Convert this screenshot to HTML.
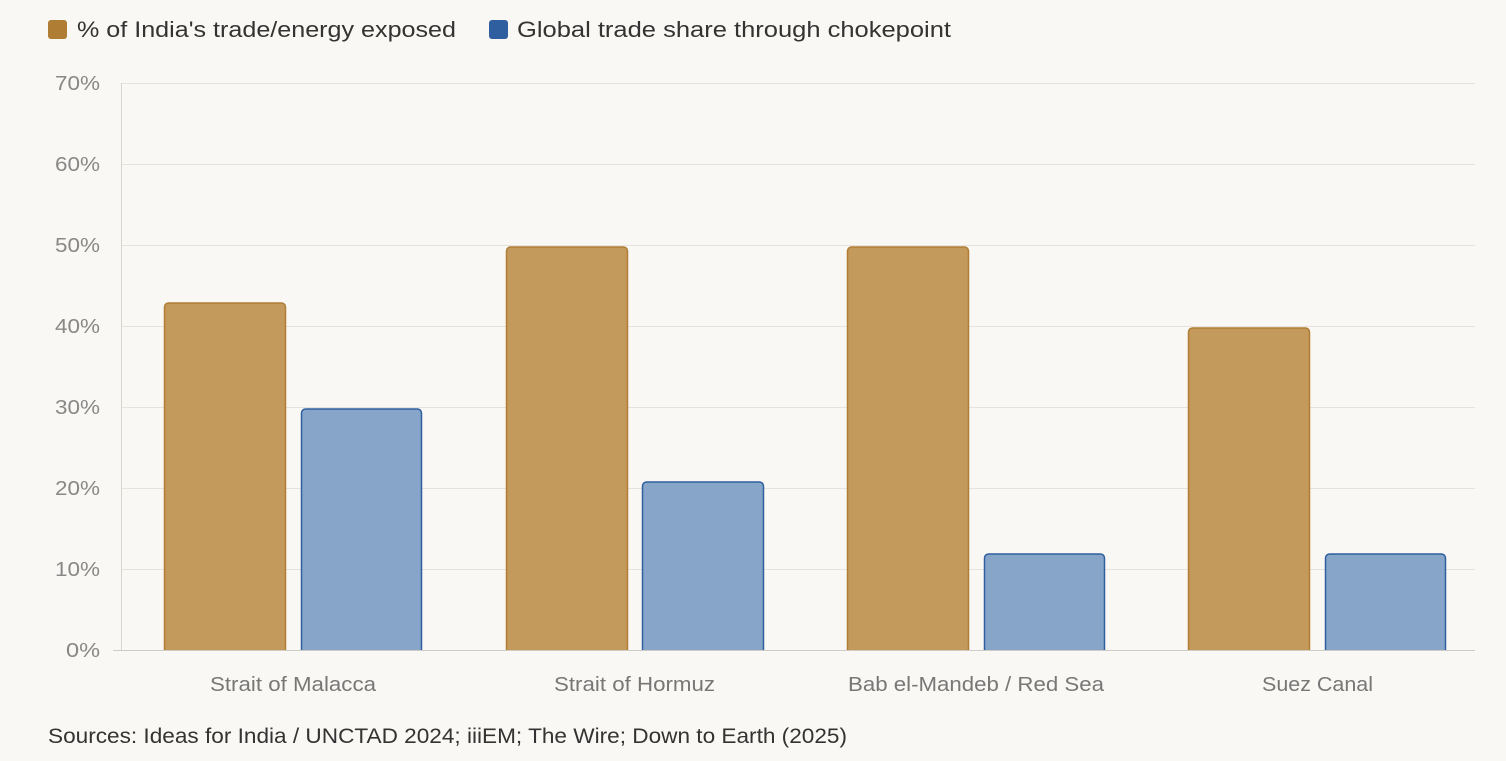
<!DOCTYPE html>
<html><head><meta charset="utf-8"><style>
html,body{margin:0;padding:0;background:#faf8f4;}
body{width:1506px;height:756px;overflow:hidden;font-family:"Liberation Sans",sans-serif;}
</style></head><body>
<svg width="1506" height="756" xmlns="http://www.w3.org/2000/svg" font-family="Liberation Sans, sans-serif">
<rect width="1506" height="756" fill="#faf8f4"/>
<rect x="48" y="20" width="19" height="19" rx="3" fill="#b07d35"/>
<text x="77" y="37" font-size="22" fill="#333" textLength="379" lengthAdjust="spacingAndGlyphs">% of India's trade/energy exposed</text>
<rect x="489" y="20" width="19" height="19" rx="3" fill="#2f5f9e"/>
<text x="517" y="37" font-size="22" fill="#333" textLength="434" lengthAdjust="spacingAndGlyphs">Global trade share through chokepoint</text>
<g stroke="#e6e3de" stroke-width="1">
<line x1="121" x2="1475" y1="83.5" y2="83.5"/>
<line x1="121" x2="1475" y1="164.5" y2="164.5"/>
<line x1="121" x2="1475" y1="245.5" y2="245.5"/>
<line x1="121" x2="1475" y1="326.5" y2="326.5"/>
<line x1="121" x2="1475" y1="407.5" y2="407.5"/>
<line x1="121" x2="1475" y1="488.5" y2="488.5"/>
<line x1="121" x2="1475" y1="569.5" y2="569.5"/>
</g>
<line x1="121.5" x2="121.5" y1="83" y2="650" stroke="#d8d5d0"/>
<line x1="113" x2="1475" y1="650.5" y2="650.5" stroke="#cfccc7"/>
<g font-size="20" fill="#888" text-anchor="end">
<text x="100" y="90" textLength="45" lengthAdjust="spacingAndGlyphs">70%</text><text x="100" y="171" textLength="45" lengthAdjust="spacingAndGlyphs">60%</text><text x="100" y="252" textLength="45" lengthAdjust="spacingAndGlyphs">50%</text>
<text x="100" y="333" textLength="45" lengthAdjust="spacingAndGlyphs">40%</text><text x="100" y="414" textLength="45" lengthAdjust="spacingAndGlyphs">30%</text><text x="100" y="495" textLength="45" lengthAdjust="spacingAndGlyphs">20%</text>
<text x="100" y="576" textLength="45" lengthAdjust="spacingAndGlyphs">10%</text><text x="100" y="657" textLength="34" lengthAdjust="spacingAndGlyphs">0%</text>
</g>
<g fill="#c49a5c" stroke="#b07d35" stroke-width="1.5">
<path d="M164.5 650V307a4 4 0 0 1 4-4h113a4 4 0 0 1 4 4V650"/>
<path d="M506.5 650V251a4 4 0 0 1 4-4h113a4 4 0 0 1 4 4V650"/>
<path d="M847.5 650V251a4 4 0 0 1 4-4h113a4 4 0 0 1 4 4V650"/>
<path d="M1188.5 650V332a4 4 0 0 1 4-4h113a4 4 0 0 1 4 4V650"/>
</g>
<g fill="#87a5c8" stroke="#2f5f9e" stroke-width="1.5">
<path d="M301.5 650V413a4 4 0 0 1 4-4h112a4 4 0 0 1 4 4V650"/>
<path d="M642.5 650V486a4 4 0 0 1 4-4h113a4 4 0 0 1 4 4V650"/>
<path d="M984.5 650V558a4 4 0 0 1 4-4h112a4 4 0 0 1 4 4V650"/>
<path d="M1325.5 650V558a4 4 0 0 1 4-4h112a4 4 0 0 1 4 4V650"/>
</g>
<g font-size="20" fill="#777">
<text x="210" y="691" textLength="166" lengthAdjust="spacingAndGlyphs">Strait of Malacca</text>
<text x="554" y="691" textLength="161" lengthAdjust="spacingAndGlyphs">Strait of Hormuz</text>
<text x="848" y="691" textLength="256" lengthAdjust="spacingAndGlyphs">Bab el-Mandeb / Red Sea</text>
<text x="1262" y="691" textLength="111" lengthAdjust="spacingAndGlyphs">Suez Canal</text>
</g>
<text x="48" y="743" font-size="21" fill="#333" textLength="799" lengthAdjust="spacingAndGlyphs">Sources: Ideas for India / UNCTAD 2024; iiiEM; The Wire; Down to Earth (2025)</text>
</svg>
</body></html>
